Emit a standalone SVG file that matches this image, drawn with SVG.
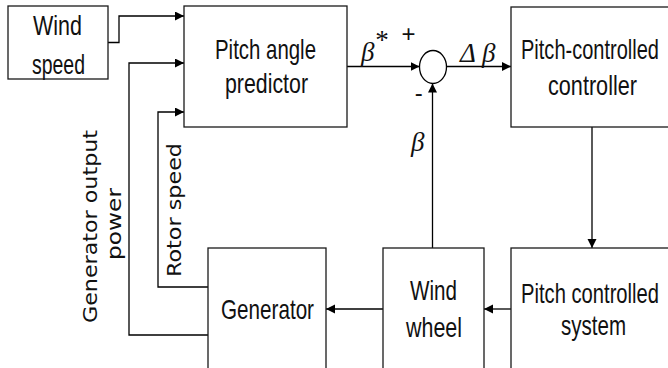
<svg xmlns="http://www.w3.org/2000/svg" width="668" height="368" viewBox="0 0 668 368">
<defs>
<marker id="arr" markerUnits="userSpaceOnUse" markerWidth="10" markerHeight="10" refX="9" refY="4.5" orient="auto">
<path d="M0,0 L9,4.5 L0,9 z" fill="#000"/>
</marker>
<style>
.box{fill:#fff;stroke:#1a1a1a;stroke-width:1.3}
.ln{fill:none;stroke:#000;stroke-width:1.3}
.t{font-family:"Liberation Sans",Arial,sans-serif;font-size:28px;fill:#111}
.r{font-family:"DejaVu Sans",Verdana,sans-serif;font-size:20px;fill:#111}
.g{font-family:"Liberation Serif","Times New Roman",serif;font-style:italic;font-size:27px;fill:#111}
.s{font-family:"Liberation Sans",Arial,sans-serif;font-size:24px;fill:#111}
</style>
</defs>
<rect width="668" height="368" fill="#fff"/>
<g id="connectors">
<path class="ln" d="M108,42.5 H119 V16 H184" marker-end="url(#arr)"/>
<path class="ln" d="M208,335 H129 V63 H184" marker-end="url(#arr)"/>
<path class="ln" d="M208,287 H158 V112 H184" marker-end="url(#arr)"/>
<path class="ln" d="M347,66.5 H419.5" marker-end="url(#arr)"/>
<path class="ln" d="M446.5,66.5 H511" marker-end="url(#arr)"/>
<path class="ln" d="M592,127 V248" stroke="#333" marker-end="url(#arr)"/>
<path class="ln" d="M511,309 H484" marker-end="url(#arr)"/>
<path class="ln" d="M383,309 H326" marker-end="url(#arr)"/>
<path class="ln" d="M432.5,248 V83.5" marker-end="url(#arr)"/>
</g>
<g id="wind-speed">
<rect class="box" x="8" y="6" width="100" height="73"/>
<text class="t" x="33" y="35" textLength="49" lengthAdjust="spacingAndGlyphs">Wind</text>
<text class="t" x="32" y="74" textLength="53" lengthAdjust="spacingAndGlyphs">speed</text>
</g>
<g id="pitch-angle-predictor">
<rect class="box" x="184" y="6" width="163" height="121"/>
<text class="t" x="215" y="59" textLength="101" lengthAdjust="spacingAndGlyphs">Pitch angle</text>
<text class="t" x="225" y="93" textLength="83" lengthAdjust="spacingAndGlyphs">predictor</text>
</g>
<g id="pitch-controlled-controller">
<rect class="box" x="511" y="7" width="180" height="120"/>
<text class="t" x="521" y="59" textLength="138" lengthAdjust="spacingAndGlyphs">Pitch-controlled</text>
<text class="t" x="548" y="95" textLength="89" lengthAdjust="spacingAndGlyphs">controller</text>
</g>
<g id="pitch-controlled-system">
<rect class="box" x="511" y="248" width="180" height="140"/>
<text class="t" x="521" y="302.5" textLength="138" lengthAdjust="spacingAndGlyphs">Pitch controlled</text>
<text class="t" x="561" y="335" textLength="65" lengthAdjust="spacingAndGlyphs">system</text>
</g>
<g id="wind-wheel">
<rect class="box" x="383" y="248" width="101" height="140"/>
<text class="t" x="410" y="300" textLength="47" lengthAdjust="spacingAndGlyphs">Wind</text>
<text class="t" x="406" y="336.5" textLength="56" lengthAdjust="spacingAndGlyphs">wheel</text>
</g>
<g id="generator">
<rect class="box" x="208" y="248" width="118" height="140"/>
<text class="t" x="221" y="319" textLength="93" lengthAdjust="spacingAndGlyphs">Generator</text>
</g>
<g id="sum">
<ellipse cx="433" cy="67" rx="13.5" ry="16.5" fill="#fff" stroke="#000" stroke-width="1.3"/>
<text class="s" x="408.5" y="42" text-anchor="middle">+</text>
<text class="s" x="418.7" y="101" text-anchor="middle">-</text>
</g>
<g id="labels">
<text class="g" x="361" y="61">β</text>
<text class="g" x="374" y="49" font-size="14" font-style="normal">*</text>
<text class="g" x="460" y="62">Δ β</text>
<text class="g" x="411" y="151">β</text>
<text class="r" transform="translate(97,323) rotate(-90)" textLength="193" lengthAdjust="spacingAndGlyphs">Generator output</text>
<text class="r" transform="translate(121,260) rotate(-90)" textLength="72" lengthAdjust="spacingAndGlyphs">power</text>
<text class="r" transform="translate(180.5,277) rotate(-90)" textLength="134" lengthAdjust="spacingAndGlyphs">Rotor speed</text>
</g>
</svg>
